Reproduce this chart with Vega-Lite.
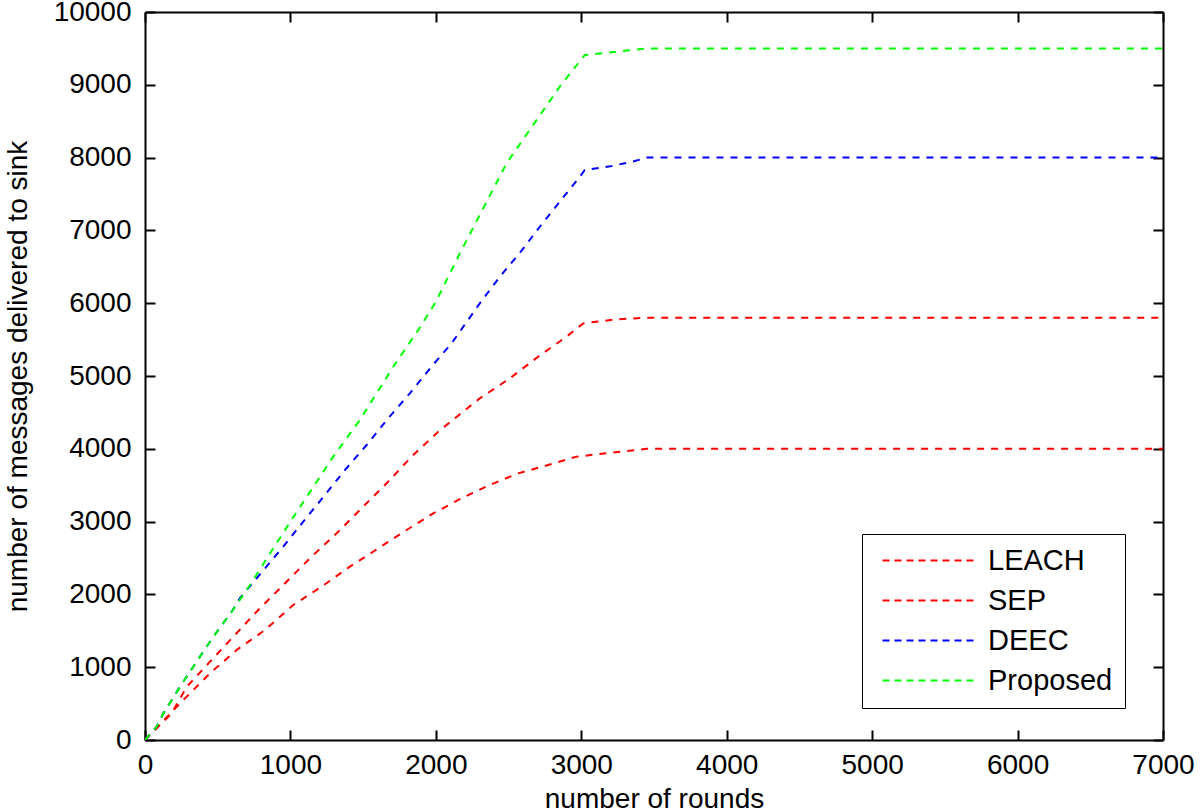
{
  "$schema": "https://vega.github.io/schema/vega-lite/v6.json",
  "width": 1018,
  "height": 728,
  "autosize": {"type": "none"},
  "padding": {"left": 145, "top": 12, "right": 37, "bottom": 72},
  "background": "white",
  "config": {
    "font": "Liberation Sans",
    "view": {"stroke": null},
    "axis": {
      "domainColor": "black",
      "domainWidth": 2,
      "tickColor": "black",
      "tickWidth": 2,
      "tickSize": -10,
      "grid": false,
      "format": "d",
      "labelFont": "Liberation Sans",
      "labelFontSize": 28,
      "labelColor": "black",
      "titleFont": "Liberation Sans",
      "titleFontSize": 28,
      "titleFontWeight": "normal",
      "titleColor": "black"
    }
  },
  "data": {
    "values": [
      {"series": "LEACH", "rounds": 0, "messages": 0},
      {"series": "LEACH", "rounds": 263, "messages": 549},
      {"series": "LEACH", "rounds": 447, "messages": 916},
      {"series": "LEACH", "rounds": 630, "messages": 1236},
      {"series": "LEACH", "rounds": 825, "messages": 1511},
      {"series": "LEACH", "rounds": 1019, "messages": 1854},
      {"series": "LEACH", "rounds": 1214, "messages": 2106},
      {"series": "LEACH", "rounds": 1409, "messages": 2381},
      {"series": "LEACH", "rounds": 1604, "messages": 2633},
      {"series": "LEACH", "rounds": 1799, "messages": 2885},
      {"series": "LEACH", "rounds": 1982, "messages": 3114},
      {"series": "LEACH", "rounds": 2177, "messages": 3320},
      {"series": "LEACH", "rounds": 2371, "messages": 3503},
      {"series": "LEACH", "rounds": 2566, "messages": 3663},
      {"series": "LEACH", "rounds": 2772, "messages": 3777},
      {"series": "LEACH", "rounds": 2967, "messages": 3892},
      {"series": "LEACH", "rounds": 3265, "messages": 3960},
      {"series": "LEACH", "rounds": 3450, "messages": 4000},
      {"series": "LEACH", "rounds": 7000, "messages": 4000},
      {"series": "SEP", "rounds": 0, "messages": 0},
      {"series": "SEP", "rounds": 183, "messages": 366},
      {"series": "SEP", "rounds": 287, "messages": 732},
      {"series": "SEP", "rounds": 447, "messages": 1076},
      {"series": "SEP", "rounds": 607, "messages": 1419},
      {"series": "SEP", "rounds": 779, "messages": 1786},
      {"series": "SEP", "rounds": 951, "messages": 2129},
      {"series": "SEP", "rounds": 1134, "messages": 2496},
      {"series": "SEP", "rounds": 1318, "messages": 2839},
      {"series": "SEP", "rounds": 1489, "messages": 3183},
      {"series": "SEP", "rounds": 1672, "messages": 3548},
      {"series": "SEP", "rounds": 1833, "messages": 3892},
      {"series": "SEP", "rounds": 2016, "messages": 4235},
      {"series": "SEP", "rounds": 2302, "messages": 4693},
      {"series": "SEP", "rounds": 2509, "messages": 4968},
      {"series": "SEP", "rounds": 2703, "messages": 5265},
      {"series": "SEP", "rounds": 2898, "messages": 5540},
      {"series": "SEP", "rounds": 3013, "messages": 5723},
      {"series": "SEP", "rounds": 3250, "messages": 5780},
      {"series": "SEP", "rounds": 3450, "messages": 5800},
      {"series": "SEP", "rounds": 7000, "messages": 5800},
      {"series": "DEEC", "rounds": 0, "messages": 0},
      {"series": "DEEC", "rounds": 80, "messages": 183},
      {"series": "DEEC", "rounds": 126, "messages": 366},
      {"series": "DEEC", "rounds": 241, "messages": 732},
      {"series": "DEEC", "rounds": 355, "messages": 1076},
      {"series": "DEEC", "rounds": 470, "messages": 1419},
      {"series": "DEEC", "rounds": 596, "messages": 1762},
      {"series": "DEEC", "rounds": 653, "messages": 1950},
      {"series": "DEEC", "rounds": 951, "messages": 2656},
      {"series": "DEEC", "rounds": 1088, "messages": 2999},
      {"series": "DEEC", "rounds": 1237, "messages": 3365},
      {"series": "DEEC", "rounds": 1375, "messages": 3709},
      {"series": "DEEC", "rounds": 1524, "messages": 4052},
      {"series": "DEEC", "rounds": 1672, "messages": 4419},
      {"series": "DEEC", "rounds": 1821, "messages": 4762},
      {"series": "DEEC", "rounds": 1970, "messages": 5128},
      {"series": "DEEC", "rounds": 2108, "messages": 5449},
      {"series": "DEEC", "rounds": 2302, "messages": 5998},
      {"series": "DEEC", "rounds": 2440, "messages": 6364},
      {"series": "DEEC", "rounds": 2577, "messages": 6690},
      {"series": "DEEC", "rounds": 2715, "messages": 7050},
      {"series": "DEEC", "rounds": 2852, "messages": 7394},
      {"series": "DEEC", "rounds": 2990, "messages": 7738},
      {"series": "DEEC", "rounds": 3024, "messages": 7830},
      {"series": "DEEC", "rounds": 3200, "messages": 7880},
      {"series": "DEEC", "rounds": 3368, "messages": 7953},
      {"series": "DEEC", "rounds": 3450, "messages": 8000},
      {"series": "DEEC", "rounds": 7000, "messages": 8000},
      {"series": "Proposed", "rounds": 0, "messages": 0},
      {"series": "Proposed", "rounds": 80, "messages": 183},
      {"series": "Proposed", "rounds": 126, "messages": 366},
      {"series": "Proposed", "rounds": 241, "messages": 732},
      {"series": "Proposed", "rounds": 355, "messages": 1076},
      {"series": "Proposed", "rounds": 470, "messages": 1419},
      {"series": "Proposed", "rounds": 596, "messages": 1762},
      {"series": "Proposed", "rounds": 722, "messages": 2129},
      {"series": "Proposed", "rounds": 882, "messages": 2633},
      {"series": "Proposed", "rounds": 1000, "messages": 3000},
      {"series": "Proposed", "rounds": 1294, "messages": 3892},
      {"series": "Proposed", "rounds": 1478, "messages": 4396},
      {"series": "Proposed", "rounds": 1707, "messages": 5128},
      {"series": "Proposed", "rounds": 1879, "messages": 5632},
      {"series": "Proposed", "rounds": 2000, "messages": 6020},
      {"series": "Proposed", "rounds": 2165, "messages": 6685},
      {"series": "Proposed", "rounds": 2486, "messages": 7921},
      {"series": "Proposed", "rounds": 2852, "messages": 8974},
      {"series": "Proposed", "rounds": 3024, "messages": 9409},
      {"series": "Proposed", "rounds": 3242, "messages": 9455},
      {"series": "Proposed", "rounds": 3450, "messages": 9500},
      {"series": "Proposed", "rounds": 7000, "messages": 9500}
    ]
  },
  "layer": [
    {
      "mark": {"type": "line", "strokeWidth": 2, "strokeDash": [7, 7], "clip": true},
      "encoding": {
        "x": {
          "field": "rounds", "type": "quantitative",
          "scale": {"domain": [0, 7000], "nice": false, "zero": false},
          "axis": {"orient": "bottom", "values": [0, 1000, 2000, 3000, 4000, 5000, 6000, 7000], "labelPadding": 21, "title": "number of rounds", "titlePadding": 6, "labelFlush": false}
        },
        "y": {
          "field": "messages", "type": "quantitative",
          "scale": {"domain": [0, 10000], "nice": false, "zero": false},
          "axis": {"orient": "left", "values": [0, 1000, 2000, 3000, 4000, 5000, 6000, 7000, 8000, 9000, 10000], "labelPadding": 24, "title": "number of messages delivered to sink", "titlePadding": 21, "labelFlush": false}
        },
        "color": {
          "field": "series", "type": "nominal",
          "scale": {"domain": ["LEACH", "SEP", "DEEC", "Proposed"], "range": ["#ff0000", "#ff0000", "#0000ff", "#00ff00"]},
          "sort": ["LEACH", "SEP", "DEEC", "Proposed"],
          "legend": {
            "title": null,
            "orient": "none",
            "legendX": 717,
            "legendY": 522,
            "direction": "vertical",
            "fillColor": "white",
            "strokeColor": "black",
            "padding": 12,
            "symbolType": "M-4,0L4,0",
            "symbolSize": 529,
            "symbolStrokeWidth": 2,
            "symbolDash": [7, 5],
            "symbolOffset": 40,
            "labelFont": "Liberation Sans",
            "labelFontSize": 29,
            "labelColor": "black",
            "labelOffset": 45,
            "rowPadding": 10,
            "encoding": {"legend": {"update": {"strokeWidth": {"value": 2}}}}
          }
        },
        "order": {"field": "rounds", "type": "quantitative"}
      }
    },
    {
      "mark": {"type": "line", "opacity": 0},
      "encoding": {
        "x": {"field": "rounds", "type": "quantitative", "axis": {"orient": "top", "labels": false, "title": null, "values": [0, 1000, 2000, 3000, 4000, 5000, 6000, 7000]}},
        "y": {"field": "messages", "type": "quantitative", "axis": {"orient": "right", "labels": false, "title": null, "values": [0, 1000, 2000, 3000, 4000, 5000, 6000, 7000, 8000, 9000, 10000]}},
        "detail": {"field": "series", "type": "nominal"}
      }
    }
  ],
  "resolve": {"axis": {"x": "independent", "y": "independent"}}
}
